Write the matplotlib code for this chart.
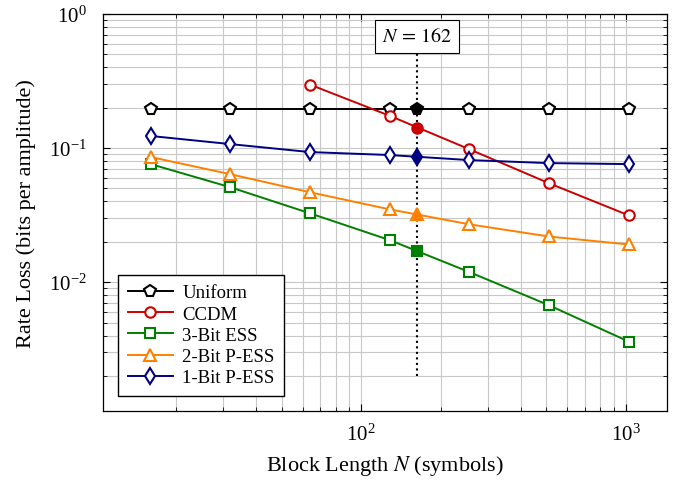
import numpy as np
from matplotlib import pyplot as plt

plt.rcParams['font.family'] = ['Liberation Serif', 'DejaVu Serif']
plt.rcParams['mathtext.fontset'] = 'stix'

N = [16, 32, 64, 128, 256, 512, 1024]
N_ccdm = [64, 128, 256, 512, 1024]
N_mark = 162

uniform = [0.196, 0.196, 0.196, 0.196, 0.196, 0.196, 0.196]
ccdm = [0.297, 0.174, 0.098, 0.0547, 0.0315]
ess3 = [0.0759, 0.051, 0.0326, 0.0206, 0.0119, 0.00673, 0.00361]
pess2 = [0.0857, 0.0638, 0.0468, 0.0349, 0.027, 0.0219, 0.0191]
pess1 = [0.123, 0.107, 0.0933, 0.0887, 0.0813, 0.0772, 0.0759]

# values at N = 162
at162 = {'Uniform': 0.196, 'CCDM': 0.141, '3-Bit ESS': 0.017,
         '2-Bit P-ESS': 0.032, '1-Bit P-ESS': 0.0857}

series = [
    ('Uniform', N, uniform, 'black', 'p', 8.5),
    ('CCDM', N_ccdm, ccdm, '#cc0000', 'o', 7.5),
    ('3-Bit ESS', N, ess3, '#008000', 's', 7.5),
    ('2-Bit P-ESS', N, pess2, '#ff8000', '^', 8),
    ('1-Bit P-ESS', N, pess1, '#000080', 'd', 8),
]

fig, ax = plt.subplots(figsize=(6.94, 4.81), dpi=100)
fig.subplots_adjust(left=0.149, right=0.961, top=0.969, bottom=0.144)

ax.plot([N_mark, N_mark], [0.002, 0.6], ':', color='black', lw=1.5, zorder=4)

for name, x, y, c, m, ms in series:
    ax.plot(x, y, '-', color=c, marker=m, ms=ms, mfc='white', mew=1.5,
            lw=1.4, label=name, zorder=5)
    ax.plot([N_mark], [at162[name]], marker=m, color=c, ms=ms, mew=1.5,
            ls='none', zorder=6)

ax.text(N_mark, 0.68, r'$N\,=\,162$', ha='center', va='center', fontsize=14.5,
        bbox=dict(boxstyle='square,pad=0.35', fc='white', ec='black', lw=0.8),
        zorder=7)

ax.set_xscale('log')
ax.set_yscale('log')
ax.set_xlim(10.6, 1430)
ax.set_ylim(1.1e-3, 1.0)
ax.grid(True, which='both', color='#c8c8c8', lw=0.8)
ax.set_axisbelow(True)
ax.tick_params(which='both', direction='in', top=True, right=True,
               labelsize=15, colors='black')
ax.tick_params(axis='x', which='both', pad=9)
ax.tick_params(axis='y', which='both', pad=12)
ax.tick_params(which='major', length=5)
ax.tick_params(which='minor', length=3)
for sp in ax.spines.values():
    sp.set_linewidth(0.9)

ax.set_xlabel(r'Block Length $N$ (symbols)', fontsize=16, labelpad=6)
ax.set_ylabel('Rate Loss (bits per amplitude)', fontsize=16, labelpad=9)

ax.legend(loc='lower left', fontsize=13.5, frameon=True, fancybox=False,
          edgecolor='black', framealpha=1, handlelength=2.4,
          handletextpad=0.5, borderaxespad=0.8, labelspacing=0.22,
          borderpad=0.5)

fig.savefig('out.png', dpi=100)
